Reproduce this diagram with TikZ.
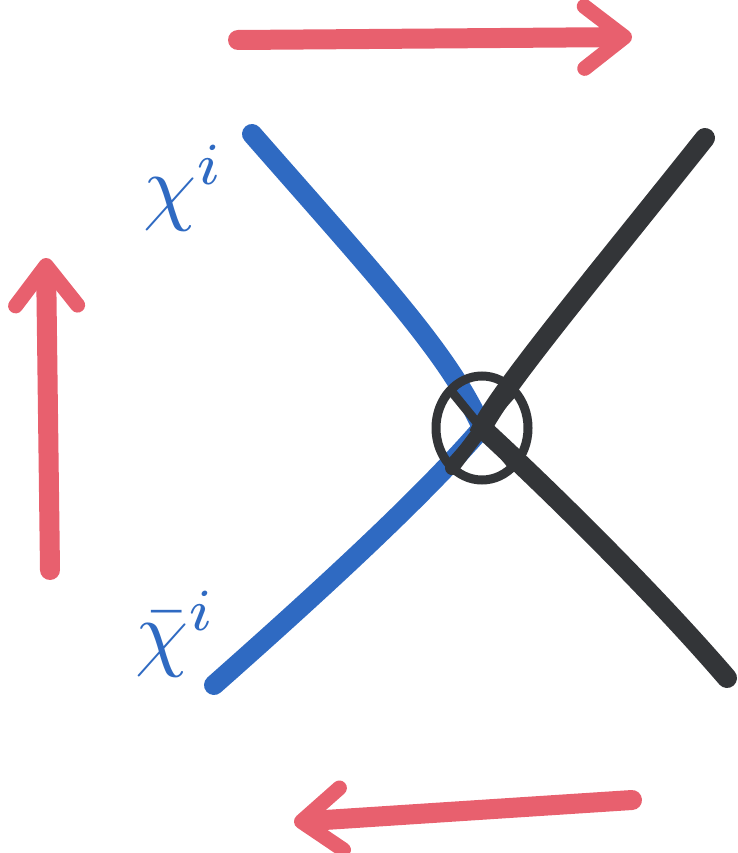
\documentclass[tikz,border=0pt]{standalone}
\usepackage{tikz}
\usepackage{graphicx}
\usetikzlibrary{arrows.meta}
\definecolor{marker}{HTML}{E8606E}
\definecolor{fermion}{HTML}{2F6AC2}
\definecolor{ink}{HTML}{333538}
\tikzset{
  flow/.style={-{Straight Barb[length=40pt,width=62pt,line width=15pt,round]}, draw=marker, line width=20pt, line cap=round},
  line/.style={line width=20pt, line cap=round},
  bluefield/.style={line, draw=fermion},
  blackfield/.style={line, draw=ink},
  vertex/.style={draw=ink, line width=9pt},
  fieldlabel/.style={text=fermion, inner sep=0pt}
}
\begin{document}
\begin{tikzpicture}[x=1pt,y=-1pt]
  \useasboundingbox (0,0) rectangle (738,853);

  % direction arrows
  \coordinate (topL) at (238,40);
  \coordinate (topR) at (632,37);
  \coordinate (leftB) at (50,570);
  \coordinate (leftT) at (46,258);
  \coordinate (botR) at (632,800);
  \coordinate (botL) at (294,822);
  \draw[flow] (topL) -- (topR);
  \draw[flow] (leftB) -- (leftT);
  \draw[flow] (botR) -- (botL);

  % lines meeting at the vertex
  \coordinate (v) at (482,428);
  \coordinate (chiT) at (252,134);
  \coordinate (chiB) at (214,685);
  \coordinate (blkT) at (705,138);
  \coordinate (blkB) at (727,678);
  \draw[bluefield] (chiT) .. controls (380,280) and (450,355) .. (v)
    .. controls (420,500) and (310,600) .. (chiB);
  \draw[blackfield] (blkT) .. controls (600,270) and (500,390) .. (v)
    .. controls (560,500) and (660,600) .. (blkB);
  \draw[blackfield, line width=14pt] (v) -- (452,468);

  % vertex marker
  \draw[vertex] (v) ellipse (46pt and 52pt);
  \draw[vertex] (452,392) -- (514,468);
  \draw[vertex] (448,466) -- (512,394);

  % labels
  \node[fieldlabel] (chi) at (184,188) {\scalebox{8.5}{$\chi^i$}};
  \node[fieldlabel] (chibar) at (176,634) {\scalebox{8.5}{$\bar\chi^i$}};
\end{tikzpicture}
\end{document}
